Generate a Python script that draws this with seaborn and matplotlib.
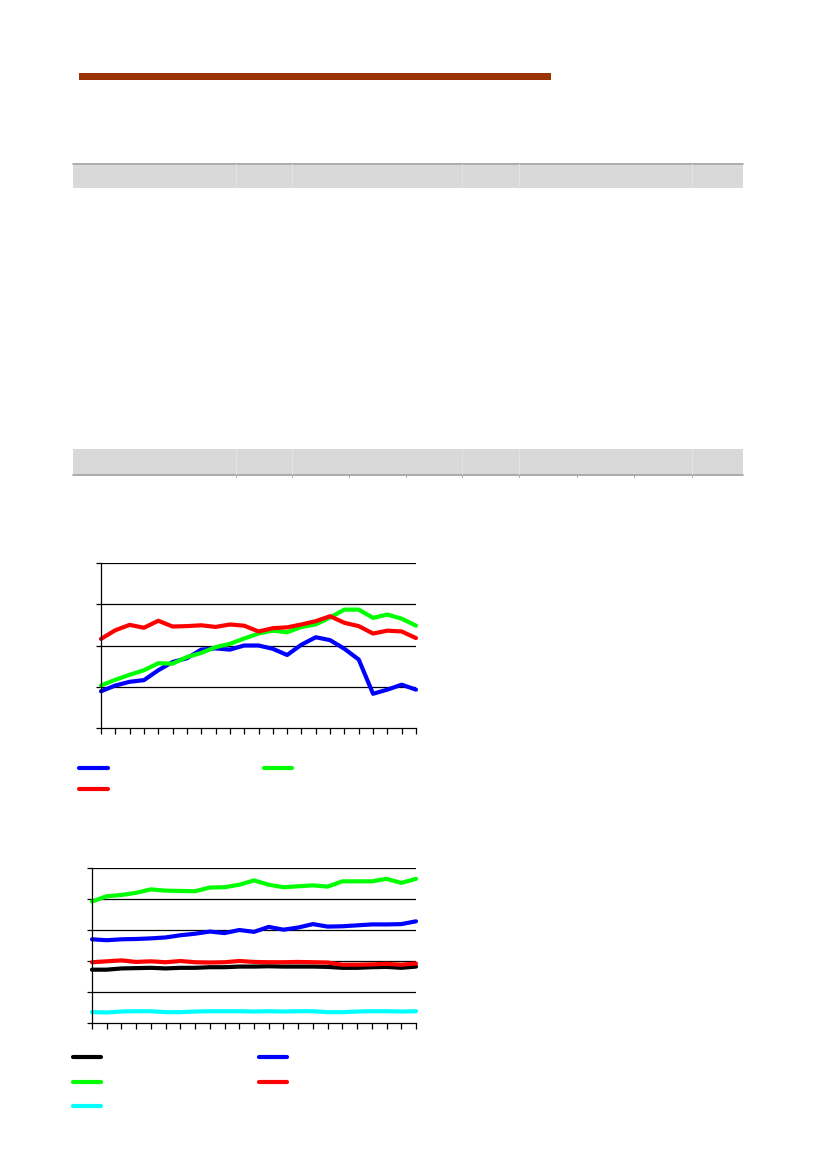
import numpy as np
import pandas as pd
import matplotlib
matplotlib.use("Agg")
import matplotlib.pyplot as plt
from matplotlib.patches import Rectangle
from matplotlib.lines import Line2D
import seaborn as sns

sns.set_style("white")
plt.rcParams['font.family'] = ['DejaVu Sans']

# ---------------- data ----------------
periods = list(range(23))

c1_blue = [0.89, 1.03, 1.12, 1.16, 1.40, 1.60, 1.69, 1.90, 1.93, 1.90, 2.00, 2.00,
           1.92, 1.77, 2.02, 2.20, 2.13, 1.92, 1.66, 0.83, 0.93, 1.05, 0.93]
c1_green = [1.03, 1.17, 1.29, 1.40, 1.57, 1.56, 1.72, 1.82, 1.96, 2.04, 2.17, 2.29,
            2.36, 2.32, 2.45, 2.51, 2.68, 2.87, 2.87, 2.67, 2.75, 2.65, 2.48]
c1_red = [2.16, 2.37, 2.50, 2.43, 2.60, 2.46, 2.47, 2.49, 2.45, 2.51, 2.48, 2.34,
          2.42, 2.44, 2.51, 2.59, 2.71, 2.55, 2.47, 2.29, 2.36, 2.34, 2.18]

c2_black = [1.72, 1.72, 1.76, 1.77, 1.78, 1.76, 1.78, 1.78, 1.80, 1.80, 1.82, 1.82,
            1.83, 1.82, 1.82, 1.82, 1.81, 1.78, 1.78, 1.80, 1.81, 1.78, 1.82]
c2_blue = [2.70, 2.67, 2.70, 2.71, 2.73, 2.76, 2.83, 2.88, 2.95, 2.90, 3.00, 2.94,
           3.10, 3.01, 3.08, 3.19, 3.11, 3.12, 3.15, 3.18, 3.18, 3.19, 3.28]
c2_green = [3.92, 4.09, 4.13, 4.20, 4.31, 4.27, 4.26, 4.25, 4.37, 4.38, 4.46, 4.60,
            4.46, 4.38, 4.41, 4.44, 4.40, 4.57, 4.57, 4.57, 4.65, 4.52, 4.65]
c2_red = [1.96, 1.99, 2.02, 1.97, 1.99, 1.96, 2.00, 1.96, 1.95, 1.96, 2.00, 1.97,
          1.96, 1.96, 1.97, 1.96, 1.95, 1.88, 1.88, 1.89, 1.91, 1.88, 1.92]
c2_cyan = [0.35, 0.34, 0.37, 0.38, 0.38, 0.35, 0.35, 0.37, 0.38, 0.38, 0.38, 0.37,
           0.38, 0.37, 0.38, 0.38, 0.35, 0.35, 0.37, 0.38, 0.38, 0.37, 0.38]

chart1_series = {"s1": c1_blue, "s2": c1_green, "s3": c1_red}
chart1_colors = {"s1": "#0000FF", "s2": "#00FF00", "s3": "#FF0000"}
chart2_series = {"a": c2_black, "b": c2_blue, "c": c2_green, "d": c2_red, "e": c2_cyan}
chart2_colors = {"a": "#000000", "b": "#0000FF", "c": "#00FF00", "d": "#FF0000", "e": "#00FFFF"}

W, H = 826, 1169
fig = plt.figure(figsize=(W / 100, H / 100), dpi=100)
fig.patch.set_facecolor("white")


def px_rect(x0, y0, x1, y1, **kw):
    fig.patches.append(Rectangle((x0 / W, 1 - y1 / H), (x1 - x0) / W, (y1 - y0) / H,
                                 transform=fig.transFigure, **kw))


def px_line(x0, y0, x1, y1, **kw):
    fig.lines.append(Line2D([x0 / W, x1 / W], [1 - y0 / H, 1 - y1 / H],
                            transform=fig.transFigure, **kw))


# ---------------- page decorations ----------------
px_rect(79, 73, 551, 80, color="#993300", lw=0)

seps = [236, 292, 349, 406, 462, 519, 577, 634, 692]
strong = {236, 292, 462, 519, 692}
# band 1
px_rect(73, 163, 743, 188, color="#D9D9D9", lw=0)
px_line(73, 163.5, 743, 163.5, color="#A6A6A6", lw=1.2)
for s in seps:
    if s in strong:
        px_line(s, 164, s, 188, color="#E4E4E4", lw=0.7)
# band 2
px_rect(73, 449, 743, 475, color="#D9D9D9", lw=0)
px_line(73, 475, 743, 475, color="#A0A0A0", lw=1.2)
for s in seps:
    if s in strong:
        px_line(s, 449, s, 474, color="#E4E4E4", lw=0.7)
    px_line(s, 475, s, 476.5, color="#A8A8A8", lw=0.7)


def make_axes(left, top, right, bottom, ymax, series, colors):
    ax = fig.add_axes([left / W, 1 - bottom / H, (right - left) / W, (bottom - top) / H])
    df = pd.DataFrame([(k, p, v) for k, vals in series.items() for p, v in zip(periods, vals)],
                      columns=["series", "period", "value"])
    sns.lineplot(data=df, x="period", y="value", hue="series", palette=colors,
                 hue_order=list(series.keys()), linewidth=3.0, ax=ax, legend=False,
                 estimator=None)
    for ln in ax.lines:
        ln.set_clip_on(False)
        ln.set_solid_joinstyle("round")
    ax.set_xlim(0, 22)
    ax.set_ylim(0, ymax)
    ax.set_xticks(periods)
    ax.set_yticks(range(ymax + 1))
    ax.set_xticklabels([])
    ax.set_yticklabels([])
    ax.set_xlabel("")
    ax.set_ylabel("")
    for y in range(1, ymax + 1):
        ax.axhline(y, color="black", lw=0.9, zorder=0.5)
    for sp in ["top", "right"]:
        ax.spines[sp].set_visible(False)
    for sp in ["left", "bottom"]:
        ax.spines[sp].set_color("black")
        ax.spines[sp].set_linewidth(0.9)
    ax.tick_params(axis="x", direction="out", length=4, width=0.9, color="black", bottom=True)
    ax.tick_params(axis="y", direction="out", length=3.5, width=0.9, color="black", left=True)
    ax.set_facecolor("none")
    return ax


make_axes(101, 563, 416, 728, 4, chart1_series, chart1_colors)
make_axes(92, 868, 416, 1023, 5, chart2_series, chart2_colors)

# ---------------- legends ----------------
leg_kw = dict(lw=3.0, solid_capstyle="round")
px_line(79, 768, 108, 768, color=chart1_colors["s1"], **leg_kw)
px_line(264, 768, 292, 768, color=chart1_colors["s2"], **leg_kw)
px_line(79, 789, 108, 789, color=chart1_colors["s3"], **leg_kw)

px_line(73, 1057, 101, 1057, color=chart2_colors["a"], **leg_kw)
px_line(259, 1057, 287, 1057, color=chart2_colors["b"], **leg_kw)
px_line(73, 1082, 101, 1082, color=chart2_colors["c"], **leg_kw)
px_line(259, 1082, 287, 1082, color=chart2_colors["d"], **leg_kw)
px_line(73, 1106, 101, 1106, color=chart2_colors["e"], **leg_kw)

fig.savefig("out.png", dpi=100)
